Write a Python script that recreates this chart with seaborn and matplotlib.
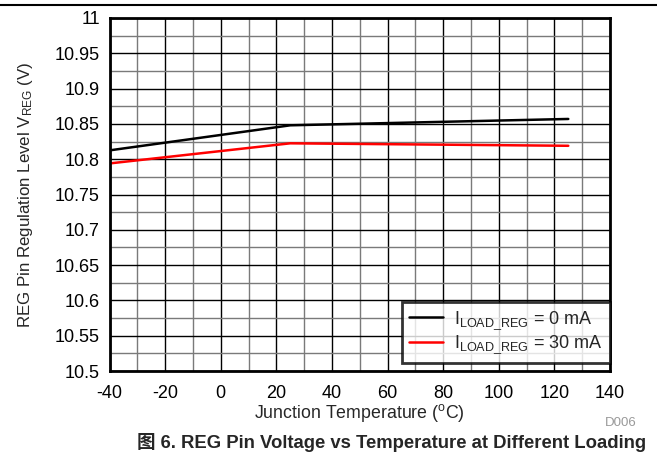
import matplotlib
matplotlib.use("Agg")
import matplotlib.pyplot as plt
import seaborn as sns
import pandas as pd
from matplotlib.ticker import MultipleLocator, FuncFormatter

temps = [-40, 25, 125]
v_0ma = [10.8125, 10.848, 10.857]
v_30ma = [10.794, 10.8225, 10.819]
labels = [r"I$_{\mathregular{LOAD\_REG}}$ = 0 mA", r"I$_{\mathregular{LOAD\_REG}}$ = 30 mA"]
xticks = [-40, -20, 0, 20, 40, 60, 80, 100, 120, 140]

df = pd.DataFrame({
    "T": temps + temps,
    "V": v_0ma + v_30ma,
    "series": [labels[0]] * len(temps) + [labels[1]] * len(temps),
})

sns.set_style("white")
plt.rcParams['font.family'] = ['Liberation Sans', 'Noto Sans CJK SC', 'DejaVu Sans']
plt.rcParams['mathtext.fontset'] = 'custom'
plt.rcParams['mathtext.rm'] = 'Liberation Sans'
plt.rcParams['mathtext.it'] = 'Liberation Sans'
plt.rcParams['axes.unicode_minus'] = False

fig = plt.figure(figsize=(6.57, 4.53), dpi=100)
ax = fig.add_axes([109.5/657, 1 - 371/453, (610 - 109.5)/657, (371 - 18)/453])

sns.lineplot(data=df, x="T", y="V", hue="series", palette=["black", "red"],
             linewidth=1.8, ax=ax, zorder=5)

ax.set_xlim(-40, 140)
ax.set_ylim(10.5, 11)
ax.set_xticks(xticks)
ax.yaxis.set_major_locator(MultipleLocator(0.05))
ax.xaxis.set_minor_locator(MultipleLocator(10))
ax.yaxis.set_minor_locator(MultipleLocator(0.025))
ax.yaxis.set_major_formatter(FuncFormatter(lambda v, p: f"{round(v, 3):g}"))
ax.xaxis.set_major_formatter(FuncFormatter(lambda v, p: f"{int(round(v))}"))
ax.grid(which="major", color="black", linewidth=1.0)
ax.grid(which="minor", color="#7a7a7a", linewidth=1.0)
ax.set_axisbelow(True)
ax.tick_params(axis="both", which="both", length=0, labelsize=13, colors="black")
ax.tick_params(axis="y", pad=7)
ax.tick_params(axis="x", pad=10)
for s in ax.spines.values():
    s.set_visible(True)
    s.set_color("black")
    s.set_linewidth(2)
    s.set_zorder(6)

ax.set_xlabel("Junction Temperature ($^{\\mathregular{o}}$C)", fontsize=12.8, labelpad=0)
ax.set_ylabel("REG Pin Regulation Level V$_{\\mathregular{REG}}$ (V)", fontsize=12.2, labelpad=14)

leg = ax.legend(loc="lower right", bbox_to_anchor=(1.0, 8/353), frameon=True, fancybox=False,
                fontsize=13, borderaxespad=0, handlelength=1.9, handletextpad=0.6,
                labelspacing=0.1, borderpad=0.4)
leg.get_frame().set_edgecolor("black")
leg.get_frame().set_linewidth(2)
leg.set_zorder(10)

fig.text(637/657, 1 - 423/453, "D006", color="#999999", fontsize=9.5, ha="right", va="center")
fig.text(137/657, 1 - 443/453, "图 6. REG Pin Voltage vs Temperature at Different Loading",
         fontsize=13.3, fontweight="bold", ha="left", va="center")
fig.add_artist(plt.Line2D([0, 1], [1 - 4.5/453, 1 - 4.5/453], color="black", linewidth=1.5,
                          transform=fig.transFigure))

fig.savefig("out.png", dpi=100)
